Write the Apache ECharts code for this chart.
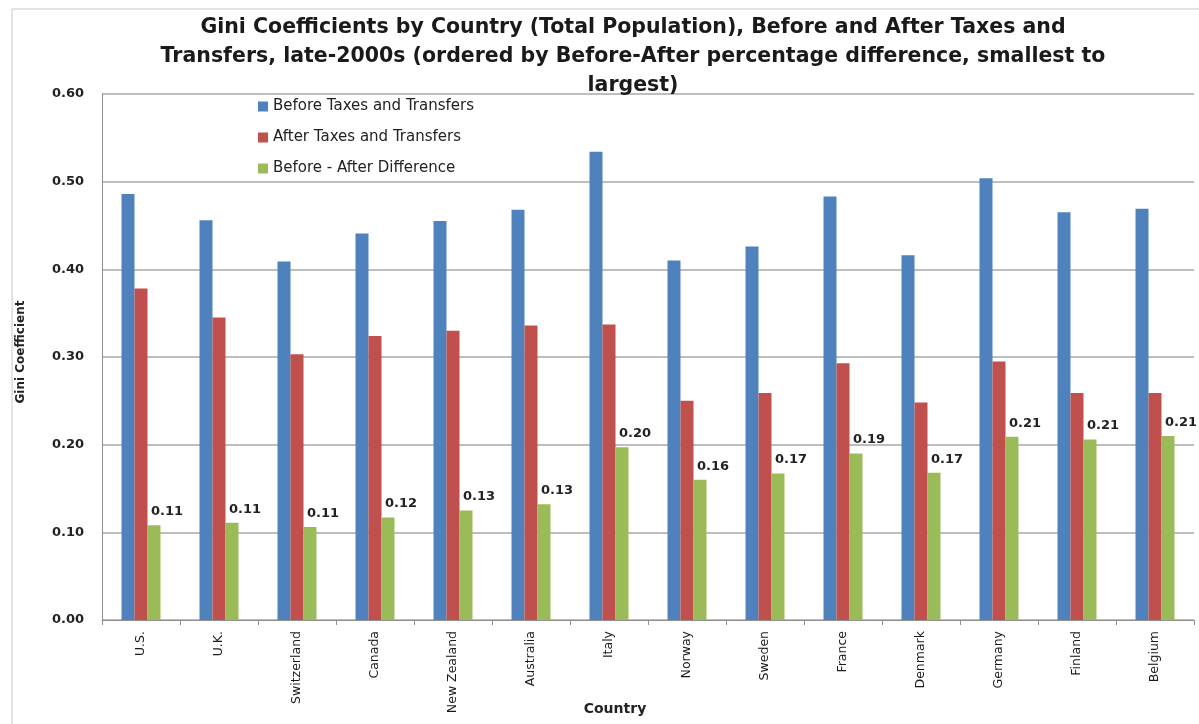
<!DOCTYPE html>
<html><head><meta charset="utf-8">
<script src="https://cdn.jsdelivr.net/npm/echarts@6/dist/echarts.min.js"></script>
<style>html,body{margin:0;padding:0;background:#fff;overflow:hidden}#c{width:1199px;height:724px}</style>
</head><body><div id="c"></div>
<script>
const countries = ['U.S.','U.K.','Switzerland','Canada','New Zealand','Australia','Italy','Norway','Sweden','France','Denmark','Germany','Finland','Belgium'];
const beforeVals = [0.486,0.456,0.409,0.441,0.455,0.468,0.534,0.410,0.426,0.483,0.416,0.504,0.465,0.469];
const afterVals  = [0.378,0.345,0.303,0.324,0.330,0.336,0.337,0.250,0.259,0.293,0.248,0.295,0.259,0.259];
const diffVals   = [0.108,0.111,0.106,0.117,0.125,0.132,0.197,0.160,0.167,0.190,0.168,0.209,0.206,0.210];
const yTicks = [0,0.1,0.2,0.3,0.4,0.5,0.6];
const titleText = 'Gini Coefficients by Country (Total Population), Before and After Taxes and\nTransfers, late-2000s (ordered by Before-After percentage difference, smallest to\nlargest)';

const F = 'DejaVu Sans';
const chart = echarts.init(document.getElementById('c'), null, {renderer:'canvas', width:1199, height:724});
chart.setOption({
  animation:false,
  backgroundColor:'#fff',
  graphic:[
    {type:'rect',shape:{x:12,y:9,width:1200,height:730},style:{fill:'none',stroke:'#c8c8c8',lineWidth:1},silent:true}
  ],
  title:{text:titleText,left:628,top:8,textAlign:'center',textStyle:{fontFamily:F,fontSize:20.5,fontWeight:'bold',color:'#1a1a1a',lineHeight:29}},
  legend:{orient:'vertical',left:253,top:94,itemWidth:10,itemHeight:10,itemGap:16,icon:'rect',
    textStyle:{fontFamily:F,fontSize:15,color:'#222'},
    data:['Before Taxes and Transfers','After Taxes and Transfers','Before - After Difference']},
  grid:{left:102,width:1092,top:94,height:526,containLabel:false,outerBoundsMode:'none'},
  xAxis:{type:'category',data:countries,name:'Country',nameLocation:'middle',nameGap:82,nameMoveOverlap:false,
    nameTextStyle:{fontFamily:F,fontSize:14,fontWeight:'bold',color:'#222',padding:[0,66,0,0]},
    axisLine:{lineStyle:{color:'#909090'}},axisTick:{show:true,length:5,lineStyle:{color:'#909090'}},
    axisLabel:{rotate:90,margin:11,fontFamily:F,fontSize:12.5,color:'#1a1a1a',interval:0}},
  yAxis:{type:'value',min:0,max:0.6,interval:0.1,name:'Gini Coefficient',nameLocation:'middle',nameGap:75,nameMoveOverlap:false,
    nameTextStyle:{fontFamily:F,fontSize:12,fontWeight:'bold',color:'#222',padding:[0,0,0,10]},
    axisLine:{show:true,lineStyle:{color:'#909090'}},axisTick:{show:false},
    splitLine:{lineStyle:{color:'#a8a8a8',width:1.5}},
    axisLabel:{margin:18,fontFamily:F,fontSize:13,fontWeight:'bold',color:'#222',
      formatter:v=>{const t=yTicks.find(x=>Math.abs(x-v)<1e-9);return (t!==undefined?t:v).toFixed(2);}}},
  series:[
    {name:'Before Taxes and Transfers',type:'bar',data:beforeVals,barWidth:13,barGap:'0%',itemStyle:{color:'#4F81BD'}},
    {name:'After Taxes and Transfers',type:'bar',data:afterVals,barWidth:13,barGap:'0%',itemStyle:{color:'#C0504D'}},
    {name:'Before - After Difference',type:'bar',data:diffVals,barWidth:13,barGap:'0%',itemStyle:{color:'#9BBB59'},
      label:{show:true,position:'top',offset:[13,-2],fontFamily:F,fontSize:13,fontWeight:'bold',color:'#222',
        formatter:p=>p.value.toFixed(2)}}
  ]
});
</script></body></html>
